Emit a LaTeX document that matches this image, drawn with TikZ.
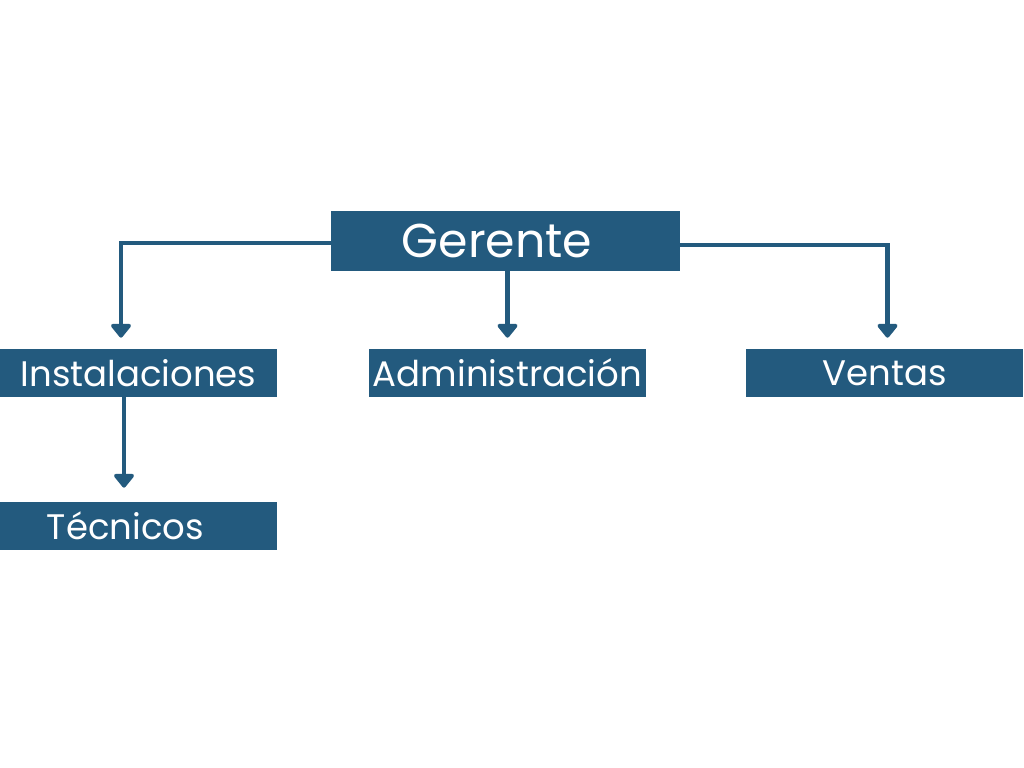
\documentclass[tikz,border=0pt]{standalone}
\usepackage{fontspec}
\setmainfont{Poppins}
\usetikzlibrary{arrows.meta}
\definecolor{azul}{HTML}{235A7E}

\begin{document}
\begin{tikzpicture}[
	caja/.style={fill=azul,text=white,minimum height=0.96cm,minimum width=5.54cm,inner sep=0pt,font=\fontsize{20.2}{24}\selectfont},
	flecha/.style={draw=azul,line width=0.09cm,-{Triangle[width=0.46cm,length=0.3cm,round]}}]
	\useasboundingbox (0,0) rectangle (20.48,-15.36);
	\node[caja,minimum width=6.98cm,minimum height=1.2cm,font=\fontsize{27}{31}\selectfont] (ger) at (10.11,-4.82) {Gerente\kern0.34cm};
	\node[caja] (inst) at (2.77,-7.46) {Instalaciones};
	\node[caja] (adm) at (10.15,-7.46) {Administración};
	\node[caja] (ven) at (17.69,-7.46) {Ventas};
	\node[caja] (tec) at (2.77,-10.52) {Técnicos\kern0.52cm};
	
	\draw[flecha,shorten >=0.22cm] ([yshift=-0.04cm]ger.west) -| ([xshift=-0.35cm]inst.north);
	\draw[flecha,shorten >=0.22cm] (adm.north |- ger.south) -- (adm.north);
	\draw[flecha,shorten >=0.22cm] ([yshift=-0.08cm]ger.east) -| ([xshift=0.06cm]ven.north);
	\draw[flecha,shorten >=0.28cm] ([xshift=-0.29cm]inst.south) -- ([xshift=-0.29cm]tec.north);
\end{tikzpicture}
\end{document}
